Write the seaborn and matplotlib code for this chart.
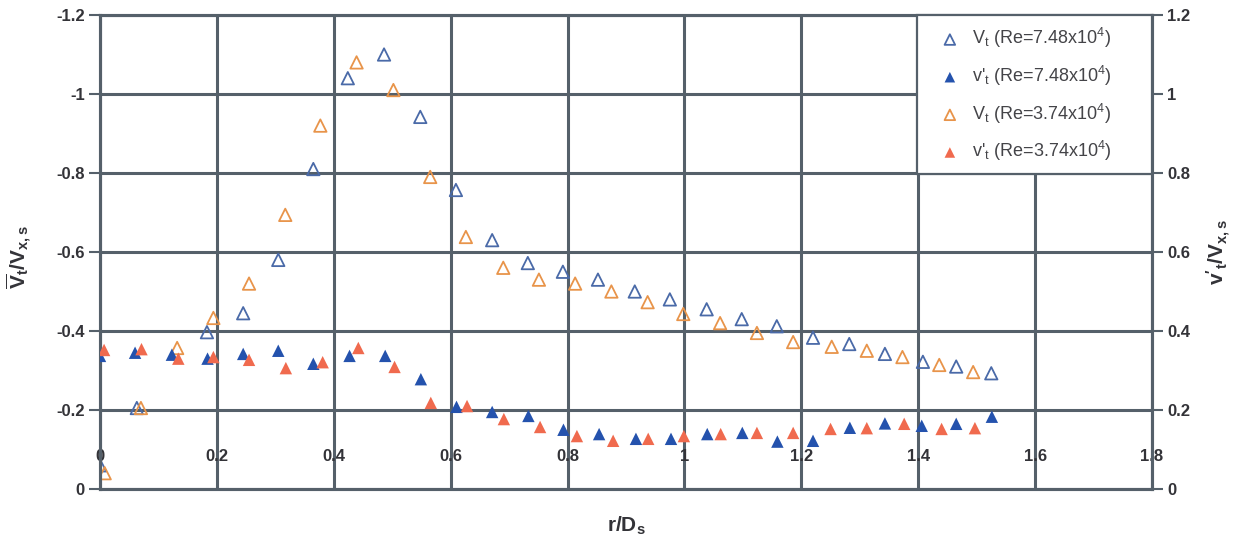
import numpy as np
import pandas as pd
import matplotlib
matplotlib.use("Agg")
import matplotlib.pyplot as plt
import seaborn as sns

# ---------------- data ----------------
x_mean_748 = [0.0, 0.063, 0.183, 0.245, 0.305, 0.365, 0.424, 0.486, 0.548, 0.609, 0.671, 0.732,
              0.792, 0.852, 0.915, 0.975, 1.038, 1.098, 1.158, 1.22, 1.282, 1.343, 1.408, 1.465, 1.525]
Vt_748 = [-0.06, -0.205, -0.397, -0.445, -0.58, -0.81, -1.04, -1.10, -0.942, -0.757, -0.63, -0.572,
          -0.55, -0.53, -0.50, -0.48, -0.455, -0.43, -0.412, -0.383, -0.367, -0.342, -0.322, -0.31, -0.293]

x_mean_374 = [0.008, 0.07, 0.132, 0.194, 0.255, 0.317, 0.377, 0.439, 0.502, 0.565, 0.626, 0.69,
              0.751, 0.813, 0.875, 0.937, 0.998, 1.061, 1.124, 1.186, 1.252, 1.312, 1.373, 1.436, 1.494]
Vt_374 = [-0.04, -0.205, -0.357, -0.433, -0.52, -0.694, -0.92, -1.08, -1.01, -0.79, -0.638, -0.56,
          -0.53, -0.52, -0.50, -0.473, -0.443, -0.42, -0.395, -0.372, -0.36, -0.35, -0.334, -0.314, -0.296]

x_rms_748 = [0.0, 0.06, 0.123, 0.184, 0.245, 0.305, 0.365, 0.427, 0.488, 0.549, 0.61, 0.671, 0.733,
             0.793, 0.854, 0.917, 0.977, 1.039, 1.099, 1.159, 1.22, 1.283, 1.343, 1.406, 1.465, 1.526]
vt_rms_748 = [0.337, 0.345, 0.34, 0.33, 0.342, 0.35, 0.317, 0.337, 0.337, 0.278, 0.208, 0.195, 0.185,
              0.15, 0.139, 0.127, 0.127, 0.139, 0.142, 0.12, 0.122, 0.155, 0.166, 0.16, 0.165, 0.183]

x_rms_374 = [0.007, 0.071, 0.134, 0.194, 0.255, 0.318, 0.381, 0.442, 0.504, 0.566, 0.628, 0.691,
             0.753, 0.816, 0.878, 0.938, 0.999, 1.062, 1.124, 1.186, 1.25, 1.312, 1.376, 1.44, 1.497]
vt_rms_374 = [0.352, 0.354, 0.33, 0.334, 0.327, 0.306, 0.321, 0.357, 0.309, 0.218, 0.21, 0.177,
              0.157, 0.134, 0.122, 0.127, 0.134, 0.139, 0.142, 0.142, 0.152, 0.154, 0.165, 0.152, 0.154]

x_ticks = [0, 0.2, 0.4, 0.6, 0.8, 1.0, 1.2, 1.4, 1.6, 1.8]
x_ticklabels = ["0", "0.2", "0.4", "0.6", "0.8", "1", "1.2", "1.4", "1.6", "1.8"]
left_ticks = [0, -0.2, -0.4, -0.6, -0.8, -1.0, -1.2]
left_ticklabels = ["0", "-0.2", "-0.4", "-0.6", "-0.8", "-1", "-1.2"]
right_ticks = [0, 0.2, 0.4, 0.6, 0.8, 1.0, 1.2]
right_ticklabels = ["0", "0.2", "0.4", "0.6", "0.8", "1", "1.2"]

labels = [r"V$_\mathrm{t}$ (Re=7.48x10$^4$)",
          r"v'$_\mathrm{t}$ (Re=7.48x10$^4$)",
          r"V$_\mathrm{t}$ (Re=3.74x10$^4$)",
          r"v'$_\mathrm{t}$ (Re=3.74x10$^4$)"]

# ---------------- style ----------------
sns.set_theme(style="white")
plt.rcParams['font.family'] = ['Liberation Sans', 'DejaVu Sans']
plt.rcParams['mathtext.fontset'] = 'custom'
plt.rcParams['mathtext.rm'] = 'Liberation Sans'
plt.rcParams['mathtext.bf'] = 'Liberation Sans:bold'
plt.rcParams['mathtext.it'] = 'Liberation Sans:italic'

BLUE_H = "#4a6aa8"
BLUE_F = "#2452ad"
ORANGE_H = "#e8944a"
ORANGE_F = "#f06a4e"
GRID = "#55606a"
TXT = "#333338"

fig = plt.figure(figsize=(12.43, 5.42), dpi=100)
ax = fig.add_axes([100 / 1243, 1 - 489 / 542, 1052 / 1243, 474 / 542])
ax2 = ax.twinx()

df1 = pd.DataFrame({"x": x_mean_748, "y": Vt_748})
df3 = pd.DataFrame({"x": x_mean_374, "y": Vt_374})
df2 = pd.DataFrame({"x": x_rms_748, "y": vt_rms_748})
df4 = pd.DataFrame({"x": x_rms_374, "y": vt_rms_374})

ms = 80
sns.scatterplot(data=df1, x="x", y="y", ax=ax, marker="^", s=ms, color=BLUE_H,
                facecolor="none", edgecolor=BLUE_H, linewidth=1.3, label=labels[0], legend=False, zorder=3)
sns.scatterplot(data=df3, x="x", y="y", ax=ax, marker="^", s=ms, color=ORANGE_H,
                facecolor="none", edgecolor=ORANGE_H, linewidth=1.3, label=labels[2], legend=False, zorder=3)
sns.scatterplot(data=df2, x="x", y="y", ax=ax2, marker="^", s=ms, color=BLUE_F,
                edgecolor="none", label=labels[1], legend=False, zorder=3)
sns.scatterplot(data=df4, x="x", y="y", ax=ax2, marker="^", s=ms, color=ORANGE_F,
                edgecolor="none", label=labels[3], legend=False, zorder=3)

ax.set_xlim(0, 1.8)
ax.set_ylim(0, -1.2)
ax2.set_ylim(0, 1.2)

ax.set_xticks(x_ticks)
ax.set_xticklabels(x_ticklabels)
ax.set_yticks(left_ticks)
ax.set_yticklabels(left_ticklabels)
ax2.set_yticks(right_ticks)
ax2.set_yticklabels(right_ticklabels)

ax.grid(True, color=GRID, linewidth=2.2)
ax.set_axisbelow(True)
for a in (ax, ax2):
    for s in a.spines.values():
        s.set_color(GRID)
        s.set_linewidth(2.2)

ax.tick_params(axis="x", length=0, pad=-29, labelsize=12, labelcolor=TXT)
ax.tick_params(axis="y", left=True, length=8, width=1.5, color=GRID, pad=3, labelsize=12, labelcolor=TXT)
ax2.tick_params(axis="y", right=True, length=8, width=1.5, color=GRID, pad=3, labelsize=12, labelcolor=TXT)
for lab in ax.get_xticklabels() + ax.get_yticklabels() + ax2.get_yticklabels():
    lab.set_fontweight("bold")

ax.set_xlabel(r"r/D$_\mathbf{s}$", fontsize=15, fontweight="bold", color=TXT)
ax.xaxis.set_label_coords(0.5, -0.055)
ax.set_ylabel(r"$\mathbf{\overline{V}_t/V_{x,s}}$", fontsize=15, color=TXT)
ax.yaxis.set_label_coords(-0.063, 0.49)
ax2.set_ylabel(r"$\mathbf{v'_t/V_{x,s}}$", fontsize=15, color=TXT)
ax2.yaxis.set_label_coords(1.05, 0.5)

h1, l1 = ax.get_legend_handles_labels()
h2, l2 = ax2.get_legend_handles_labels()
handles = [h1[0], h2[0], h1[1], h2[1]]
labs = [l1[0], l2[0], l1[1], l2[1]]
x0 = 817 / 1052
y0 = (489 - 173) / 474
leg = ax2.legend(handles, labs, loc="upper left",
                 bbox_to_anchor=(x0, y0, 1.0 - x0, 1.0 - y0), mode="expand", borderaxespad=0,
                 frameon=True, fancybox=False, framealpha=1, edgecolor=GRID,
                 fontsize=13, labelspacing=0.75, handletextpad=0.0, handlelength=2.4,
                 markerscale=0.85, borderpad=0.62)
leg.get_frame().set_linewidth(1.6)
for t in leg.get_texts():
    t.set_color("#444448")

fig.savefig("out.png", dpi=100)
